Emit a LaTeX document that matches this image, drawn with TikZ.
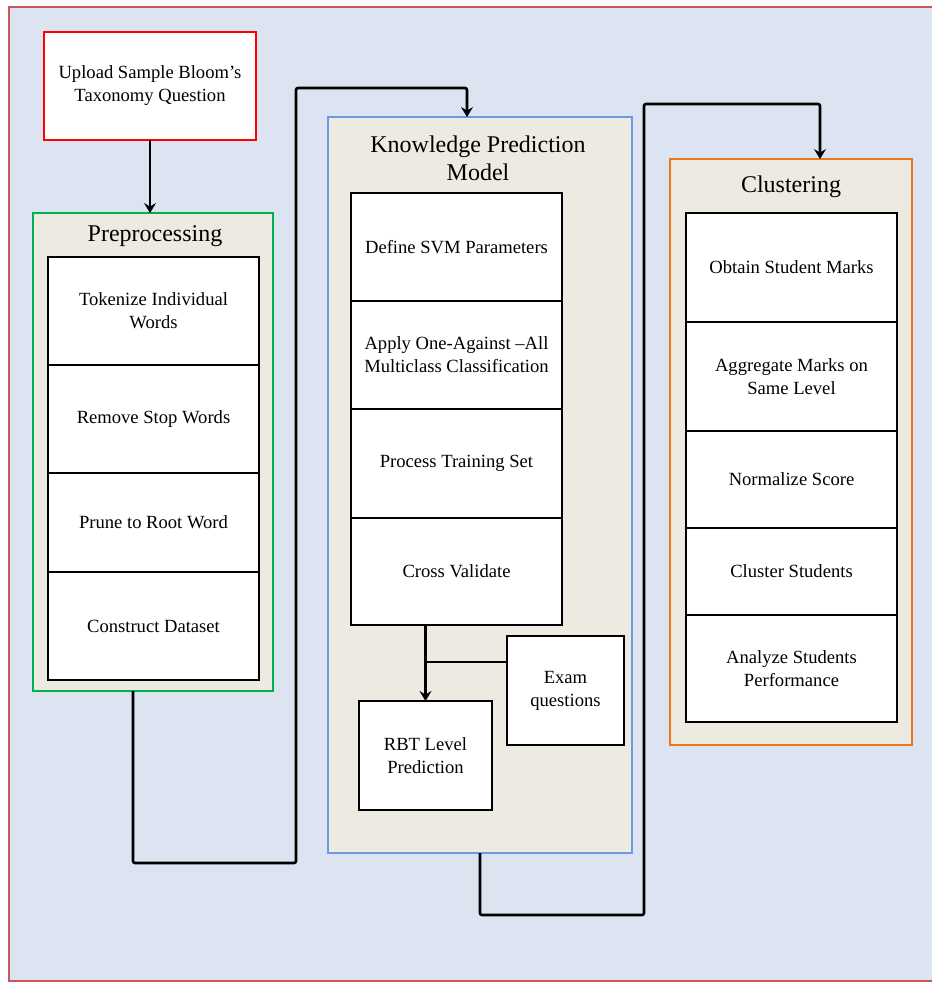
\documentclass[tikz,border=0pt]{standalone}
\usepackage{fontspec}
\setmainfont{Liberation Serif}
\usetikzlibrary{arrows.meta,positioning}

\definecolor{bgblue}{HTML}{DBE4F0}
\definecolor{framered}{HTML}{C9585A}
\definecolor{tanfill}{HTML}{EDEBE1}
\definecolor{grpgreen}{HTML}{00B050}
\definecolor{grpblue}{HTML}{6A9AE0}
\definecolor{grporange}{HTML}{E8781E}

\begin{document}
\begin{tikzpicture}[x=0.5pt, y=-0.5pt, >={Stealth[length=5pt,width=6pt,inset=1.8pt]}, semithick,
    group/.style={draw, line width=1.1pt, fill=tanfill, outer sep=0pt, inner sep=0pt},
    grouptitle/.style={font=\fontsize{12}{14}\selectfont, align=center},
    stepbox/.style={draw=black, line width=1.3pt, fill=white, outer sep=0pt, align=center,
                    font=\fontsize{9.3}{11.5}\selectfont},
    conn/.style={line width=1.3pt, rounded corners=1pt}]
    \useasboundingbox (0,0) rectangle (932,982);

    % page frame
    \draw[framered, fill=bgblue, line width=1pt] (9,7) rectangle (950,981);

    \node[stepbox, draw=red, minimum width=106pt, minimum height=54pt] (upload) at (150,86)
        {Upload Sample Bloom's\\Taxonomy Question};

    % groups
    \node[group, draw=grpgreen,  minimum width=120pt, minimum height=239pt] (prep) at (153,452) {};
    \node[group, draw=grpblue,   minimum width=152pt, minimum height=368pt] (kpm)  at (480,485) {};
    \node[group, draw=grporange, minimum width=121pt, minimum height=293pt] (clu)  at (791,452) {};

    \node[grouptitle] (prept) at (155,236) {Preprocessing};
    \node[grouptitle] (kpmt)  at (478,158) {Knowledge Prediction\\Model};
    \node[grouptitle] (clut)  at (791,187) {Clustering};

    % preprocessing steps
    \node[stepbox, minimum width=105.5pt, minimum height=54pt]   (tok)   at (153.5,311)   {Tokenize Individual\\Words};
    \node[stepbox, minimum width=105.5pt, minimum height=54pt]   (stop)  [below=0pt of tok]   {Remove Stop Words};
    \node[stepbox, minimum width=105.5pt, minimum height=49.5pt] (prune) [below=0pt of stop]  {Prune to Root Word};
    \node[stepbox, minimum width=105.5pt, minimum height=54pt]   (data)  [below=0pt of prune] {Construct Dataset};

    % knowledge prediction steps
    \node[stepbox, minimum width=105.5pt, minimum height=54pt]   (svm)   at (456.5,247)   {Define SVM Parameters};
    \node[stepbox, minimum width=105.5pt, minimum height=54pt]   (ova)   [below=0pt of svm]   {Apply One-Against --All\\Multiclass Classification};
    \node[stepbox, minimum width=105.5pt, minimum height=54.5pt] (train) [below=0pt of ova]   {Process Training Set};
    \node[stepbox, minimum width=105.5pt, minimum height=53.5pt] (cv)    [below=0pt of train] {Cross Validate};

    \node[stepbox, minimum width=58.5pt, minimum height=54.5pt]  (exam)  at (565.5,690.5) {Exam\\questions};
    \node[stepbox, minimum width=66.5pt, minimum height=54.5pt]  (rbt)   at (425.5,755.5) {RBT Level\\Prediction};

    % clustering steps
    \node[stepbox, minimum width=105.5pt, minimum height=54.5pt] (marks) at (791.5,267.5) {Obtain Student Marks};
    \node[stepbox, minimum width=105.5pt, minimum height=54.5pt] (aggr)  [below=0pt of marks] {Aggregate Marks on\\Same Level};
    \node[stepbox, minimum width=105.5pt, minimum height=48.5pt] (norm)  [below=0pt of aggr]  {Normalize Score};
    \node[stepbox, minimum width=105.5pt, minimum height=43.5pt] (clus)  [below=0pt of norm]  {Cluster Students};
    \node[stepbox, minimum width=105.5pt, minimum height=53.5pt] (perf)  [below=0pt of clus]  {Analyze Students\\Performance};

    % connectors
    \draw[conn, ->] (upload.south) -- (upload.south |- prep.north);
    \draw[conn, ->] ([xshift=-10pt]prep.south) |- (296,863) |- (467,88) -- ([xshift=-6.5pt]kpm.north);
    \draw[conn, ->] (kpm.south) |- (644,915) |- (820,104) -- ([xshift=14.5pt]clu.north);
    \draw[conn, ->] (cv.south -| rbt.north) -- (rbt.north);
    \coordinate (examin) at ([yshift=14.25pt]exam.west);
    \draw[conn] (examin) -- (examin -| rbt.north);
\end{tikzpicture}
\end{document}
